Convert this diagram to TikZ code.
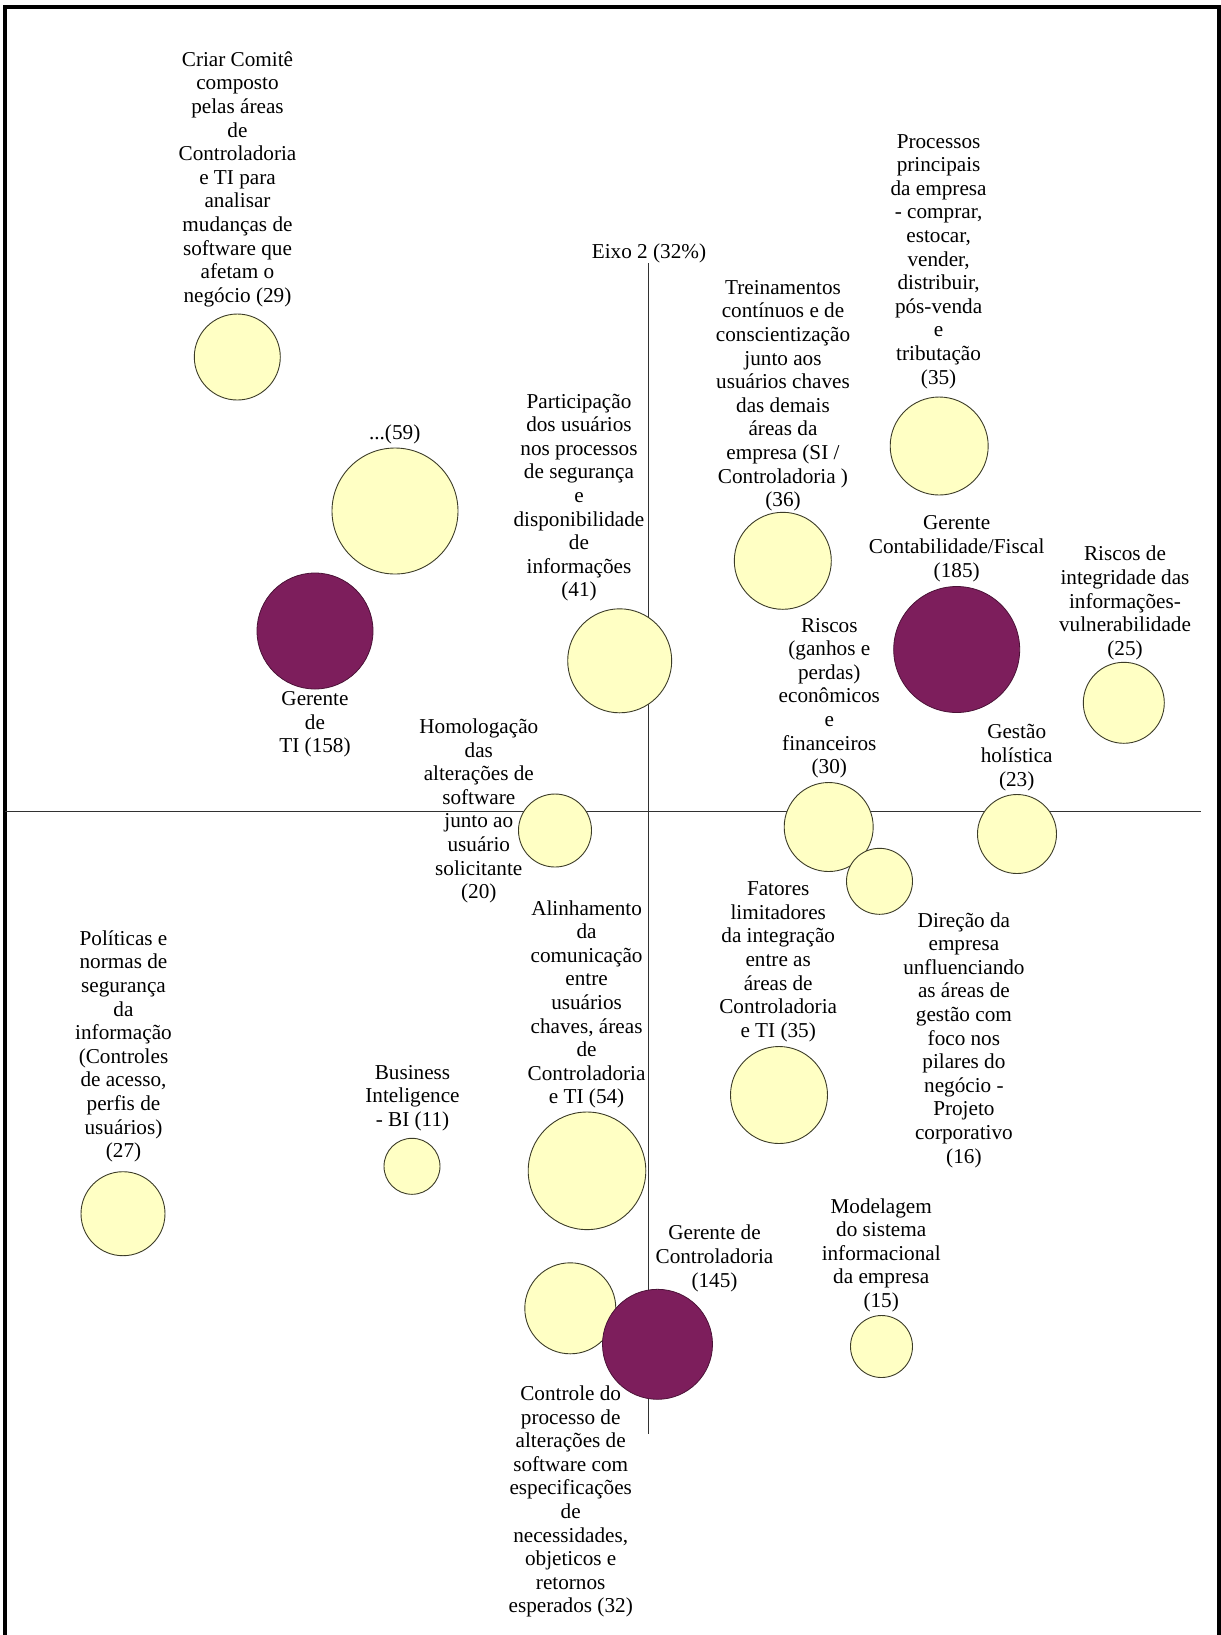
\documentclass[tikz,border=0pt]{standalone}
\usepackage{fontspec}
\setmainfont{Liberation Serif}
\definecolor{bubble}{RGB}{255,255,196}
\definecolor{plum}{RGB}{125,30,92}
\definecolor{rim}{RGB}{60,60,40}
\definecolor{axisgray}{RGB}{50,50,50}
\tikzset{
  bub/.style={circle, draw=rim, line width=0.45pt, fill=bubble, inner sep=0pt, minimum size=#1pt},
  dbub/.style={circle, draw=plum!60!black, line width=0.4pt, fill=plum, inner sep=0pt, minimum size=#1pt},
  lbl/.style={align=center, inner sep=0pt, font=\fontsize{10.6pt}{11.8pt}\selectfont},
  axisline/.style={draw=axisgray, line width=0.65pt},
  frameline/.style={draw=black, line width=2pt, line join=miter}
}
\begin{document}
\begin{tikzpicture}[x=0.5pt, y=-0.5pt]
\useasboundingbox (0,0) rectangle (1221,1635);
\fill[white] (0,0) rectangle (1221,1635);
% outer frame (open at the bottom)
\draw[frameline] (5.3,1640) -- (5.3,7) -- (1219,7) -- (1219,1640);

% axes
\coordinate (xl) at (5.3,811.3);
\coordinate (xr) at (1201,811.3);
\coordinate (yt) at (648.5,263);
\coordinate (yb) at (648.5,1434);
\draw[axisline] (xl) -- (xr);
\draw[axisline] (yt) -- (yb);
\node[lbl] (eixo) at (649,253) {Eixo 2 (32\%)};

% bubbles
\node[bub=43]   (comite)   at (237.3,357)    {};
\node[bub=63]   (b59)      at (395,511)      {};
\node[dbub=58]  (gerti)    at (315,631)      {};
\node[bub=52]   (partic)   at (619.7,660.8)  {};
\node[bub=48.5] (trein)    at (782.8,560.8)  {};
\node[bub=49]   (proc)     at (939.2,446)    {};
\node[dbub=63]  (gercont)  at (956.7,649.5)  {};
\node[bub=40.5] (integ)    at (1123.8,702.8) {};
\node[bub=36.5] (homol)    at (555,830.5)    {};
\node[bub=44.5] (riscos)   at (828.7,827)    {};
\node[bub=39.5] (gestao)   at (1017,834)     {};
\node[bub=33]   (direcao)  at (879.5,881.3)  {};
\node[bub=48.5] (fatores)  at (779,1095)     {};
\node[bub=42]   (politicas) at (123,1213.7)  {};
\node[bub=28]   (bi)       at (412,1166.3)   {};
\node[bub=58.8] (alinh)    at (587,1170.8)   {};
\node[bub=45.5] (controle) at (570.3,1308.3) {};
\node[dbub=55]  (gercontr) at (657.5,1344.3) {};
\node[bub=31]   (modelag)  at (881.5,1346.5) {};

% labels
\node[lbl] (t-comite) at (237.5,179.3) {Criar Comitê\\composto\\pelas áreas\\de\\Controladoria\\e TI para\\analisar\\mudanças de\\software que\\afetam o\\negócio (29)};
\node[lbl] (t-b59) at (394.7,434) {...(59)};
\node[lbl] (t-gerti) at (315,724.3) {Gerente\\de\\TI (158)};
\node[lbl] (t-partic) at (579,497.7) {Participação\\dos usuários\\nos processos\\de segurança\\e\\disponibilidade\\de\\informações\\(41)};
\node[lbl] (t-trein) at (783,395.7) {Treinamentos\\contínuos e de\\conscientização\\junto aos\\usuários chaves\\das demais\\áreas da\\empresa (SI /\\Controladoria )\\(36)};
\node[lbl] (t-proc) at (938.6,261.5) {Processos\\principais\\da empresa\\- comprar,\\estocar,\\vender,\\distribuir,\\pós-venda\\e\\tributação\\(35)};
\node[lbl] (t-gercont) at (956.7,548.8) {Gerente\\Contabilidade/Fiscal\\(185)};
\node[lbl] (t-integ) at (1125,603) {Riscos de\\integridade das\\informações-\\vulnerabilidade\\(25)};
\node[lbl] (t-homol) at (478.8,811) {Homologação\\das\\alterações de\\software\\junto ao\\usuário\\solicitante\\(20)};
\node[lbl] (t-riscos) at (829.3,698.2) {Riscos\\(ganhos e\\perdas)\\econômicos\\e\\financeiros\\(30)};
\node[lbl] (t-gestao) at (1016.7,757.7) {Gestão\\holística\\(23)};
\node[lbl] (t-direcao) at (963.9,1039.9) {Direção da\\empresa\\unfluenciando\\as áreas de\\gestão com\\foco nos\\pilares do\\negócio -\\Projeto\\corporativo\\(16)};
\node[lbl] (t-fatores) at (778.2,961.8) {Fatores\\limitadores\\da integração\\entre as\\áreas de\\Controladoria\\e TI (35)};
\node[lbl] (t-politicas) at (123.5,1046.3) {Políticas e\\normas de\\segurança\\da\\informação\\(Controles\\de acesso,\\perfis de\\usuários)\\(27)};
\node[lbl] (t-bi) at (412.5,1098) {Business\\Inteligence\\- BI (11)};
\node[lbl] (t-alinh) at (586.6,1004.3) {Alinhamento\\da\\comunicação\\entre\\usuários\\chaves, áreas\\de\\Controladoria\\e TI (54)};
\node[lbl] (t-controle) at (570.7,1501.5) {Controle do\\processo de\\alterações de\\software com\\especificações\\de\\necessidades,\\objeticos e\\retornos\\esperados (32)};
\node[lbl] (t-gercontr) at (714.5,1258.4) {Gerente de\\Controladoria\\(145)};
\node[lbl] (t-modelag) at (881.2,1255.2) {Modelagem\\do sistema\\informacional\\da empresa\\(15)};
\end{tikzpicture}
\end{document}
